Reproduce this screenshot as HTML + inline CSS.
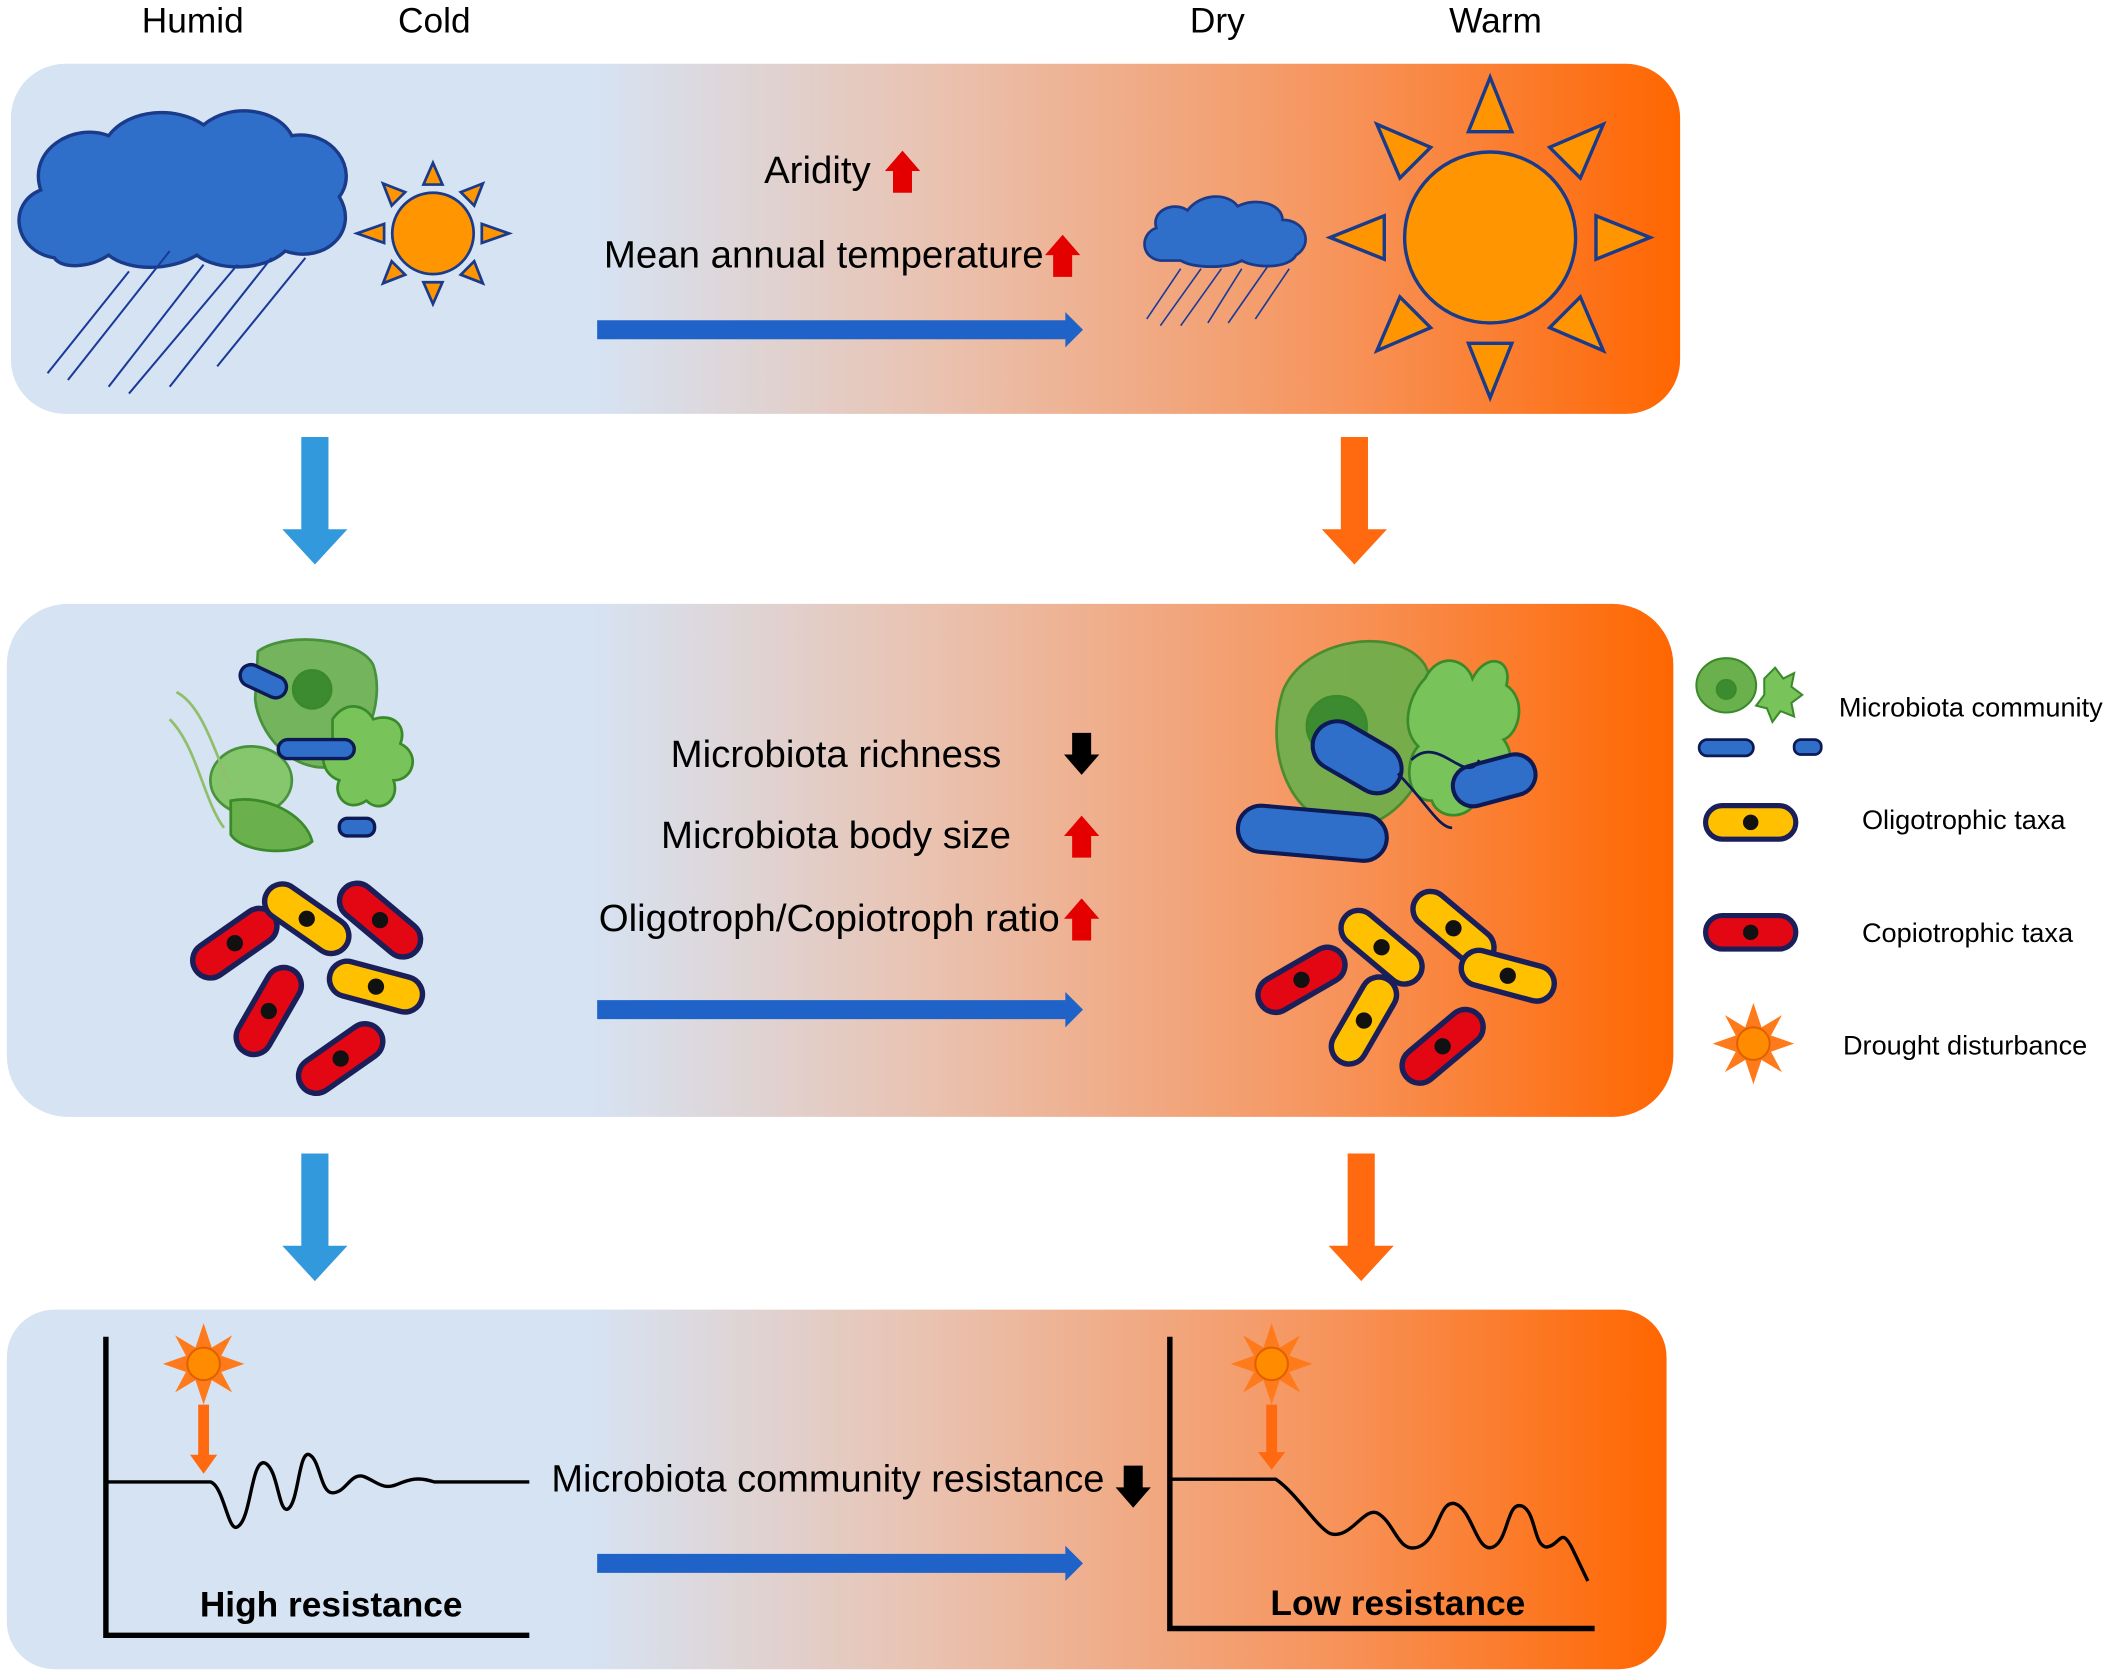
<!DOCTYPE html>
<html><head><meta charset="utf-8"><style>
html,body{margin:0;padding:0;background:#fff;}
svg{display:block;}
text{font-family:"Liberation Sans",Arial,sans-serif;}
</style></head><body>
<svg width="2128" height="1676" viewBox="0 0 1568 1235" xmlns="http://www.w3.org/2000/svg">
<defs>
<linearGradient id="g" x1="0" x2="1" y1="0" y2="0">
<stop offset="0" stop-color="#d6e3f3"/>
<stop offset="0.35" stop-color="#d6e3f3"/>
<stop offset="0.55" stop-color="#e9c3b2"/>
<stop offset="0.8" stop-color="#f7935a"/>
<stop offset="1" stop-color="#ff6600"/>
</linearGradient>
<g id="cap"><rect x="-35" y="-13" width="70" height="26" rx="13" stroke="#1a1f5a" stroke-width="4"/><circle r="6" fill="#111"/></g>
<g id="star"><polygon points="0,-30 6,-12 21,-21 13,-6 30,0 13,6 21,21 6,12 0,30 -6,12 -21,21 -13,6 -30,0 -13,-6 -21,-21 -6,-12" fill="#ff7a1a"/><circle r="12" fill="#ff8c00" stroke="#e06000" stroke-width="1.5"/></g>
<g id="up"><polygon points="-7,16 7,16 7,0 13,0 0,-15 -13,0 -7,0" fill="#e50000"/></g>
<g id="dn"><polygon points="-7,-16 7,-16 7,0 13,0 0,15 -13,0 -7,0" fill="#000"/></g>
</defs>

<rect x="8" y="47" width="1230" height="258" rx="40" fill="url(#g)"/>
<rect x="5" y="445" width="1228" height="378" rx="45" fill="url(#g)"/>
<rect x="5" y="965" width="1223" height="265" rx="35" fill="url(#g)"/>

<g font-size="26" fill="#000" text-anchor="middle">
<text x="142" y="24">Humid</text><text x="320" y="24">Cold</text>
<text x="897" y="24">Dry</text><text x="1102" y="24">Warm</text>
</g>

<g stroke="#1a3a8a" stroke-width="2.5" fill="#2f6fc9">
<path d="M40,190 C10,185 5,150 30,140 C20,110 55,90 80,100 C95,80 130,78 150,92 C170,75 205,80 215,100 C245,95 265,125 250,145 C265,170 240,195 210,185 C195,200 160,200 145,188 C125,200 95,200 80,188 C65,198 45,198 40,190 Z"/>
</g>
<g stroke="#1a3a9a" stroke-width="1.5">
<line x1="95" y1="200" x2="35" y2="275"/><line x1="125" y1="185" x2="50" y2="280"/>
<line x1="150" y1="195" x2="80" y2="285"/><line x1="175" y1="195" x2="95" y2="290"/>
<line x1="200" y1="190" x2="125" y2="285"/><line x1="225" y1="190" x2="160" y2="270"/>
</g>
<g fill="#ff9500" stroke="#1a3a8a" stroke-width="2">
<g transform="translate(319,172)">
<polygon points="-7,-36 7,-36 0,-52"/><polygon points="-7,36 7,36 0,52"/>
<polygon points="-36,-7 -36,7 -56,0"/><polygon points="36,-7 36,7 56,0"/>
<polygon points="-7,-36 7,-36 0,-52" transform="rotate(45)"/><polygon points="-7,-36 7,-36 0,-52" transform="rotate(135)"/>
<polygon points="-7,-36 7,-36 0,-52" transform="rotate(225)"/><polygon points="-7,-36 7,-36 0,-52" transform="rotate(315)"/>
<circle r="30"/>
</g></g>

<g font-size="28.3" fill="#000">
<text x="563" y="135">Aridity</text>
<text x="445" y="197">Mean annual temperature</text>
</g>
<use href="#up" x="665" y="126"/><use href="#up" x="783" y="188"/>
<polygon points="440,236 785,236 785,230 798,243 785,256 785,250 440,250" fill="#1f63c9"/>

<path d="M855,192 C840,190 840,172 852,168 C848,155 865,148 875,155 C885,142 905,142 912,152 C925,145 945,150 945,162 C962,162 968,180 955,188 C950,198 925,198 915,192 C905,198 880,198 870,192 Z" fill="#2f6fc9" stroke="#1a3a8a" stroke-width="2"/>
<g stroke="#1a3a9a" stroke-width="1.2">
<line x1="870" y1="198" x2="845" y2="235"/><line x1="885" y1="198" x2="855" y2="240"/>
<line x1="900" y1="198" x2="870" y2="240"/><line x1="915" y1="198" x2="890" y2="238"/>
<line x1="935" y1="195" x2="905" y2="238"/><line x1="950" y1="198" x2="925" y2="235"/>
</g>
<g fill="#ff9500" stroke="#1a3a8a" stroke-width="2.5" transform="translate(1098,175)">
<polygon points="-16,-78 16,-78 0,-118"/>
<polygon points="-16,-78 16,-78 0,-118" transform="rotate(45)"/>
<polygon points="-16,-78 16,-78 0,-118" transform="rotate(90)"/>
<polygon points="-16,-78 16,-78 0,-118" transform="rotate(135)"/>
<polygon points="-16,-78 16,-78 0,-118" transform="rotate(180)"/>
<polygon points="-16,-78 16,-78 0,-118" transform="rotate(225)"/>
<polygon points="-16,-78 16,-78 0,-118" transform="rotate(270)"/>
<polygon points="-16,-78 16,-78 0,-118" transform="rotate(315)"/>
<circle r="63"/>
</g>

<polygon points="222,322 242,322 242,390 256,390 232,416 208,390 222,390" fill="#3399dd"/>
<polygon points="988,322 1008,322 1008,390 1022,390 998,416 974,390 988,390" fill="#ff6a10"/>
<polygon points="222,850 242,850 242,918 256,918 232,944 208,918 222,918" fill="#3399dd"/>
<polygon points="993,850 1013,850 1013,918 1027,918 1003,944 979,918 993,918" fill="#ff6a10"/>

<g stroke="#3a8a2a" stroke-width="2">
<path d="M190,480 C210,465 265,470 275,490 C285,520 265,560 245,565 C215,570 190,540 188,515 Z" fill="#6ab04c" opacity="0.9"/>
<circle cx="230" cy="508" r="14" fill="#3d8b30"/>
<path d="M245,530 C255,515 270,520 275,530 C290,525 300,535 295,548 C310,555 305,575 290,575 C295,590 280,600 270,590 C255,600 245,585 250,575 C235,570 235,550 245,545 Z" fill="#78c45a"/>
<ellipse cx="185" cy="575" rx="30" ry="25" fill="#7ec460" opacity="0.9"/>
<path d="M170,590 C195,585 225,600 230,620 C220,630 180,630 170,615 Z" fill="#6ab04c"/>
<path d="M130,510 C150,520 160,560 170,580 M125,530 C145,550 150,590 165,610" fill="none" stroke="#8fbf6a"/>
</g>
<g stroke="#0d1a55" stroke-width="2.5" fill="#2f6fc9">
<rect x="176" y="494" width="36" height="16" rx="8" transform="rotate(25,194,502)"/>
<rect x="205" y="545" width="56" height="14" rx="7"/>
<rect x="250" y="603" width="26" height="13" rx="6"/>
</g>
<g stroke="#3a8a2a" stroke-width="2">
<path d="M945,510 C960,470 1030,460 1050,490 C1070,530 1050,600 1000,610 C955,612 930,560 945,510 Z" fill="#6ab04c" opacity="0.9"/>
<circle cx="985" cy="535" r="22" fill="#3d8b30"/>
<path d="M1050,500 C1060,480 1080,485 1085,500 C1095,480 1115,485 1110,505 C1125,515 1120,540 1108,545 C1120,560 1110,590 1090,585 C1085,605 1060,605 1055,590 C1035,590 1035,560 1045,550 C1030,535 1040,510 1050,500 Z" fill="#78c45a"/>
</g>
<g stroke="#0d1a55" stroke-width="3" fill="#2f6fc9">
<rect x="965" y="540" width="70" height="36" rx="18" transform="rotate(30,1000,558)"/>
<rect x="1070" y="560" width="62" height="30" rx="15" transform="rotate(-15,1101,575)"/>
<rect x="912" y="597" width="110" height="34" rx="17" transform="rotate(5,967,614)"/>
</g>
<path d="M1030,570 C1050,590 1060,610 1070,610 M1040,560 C1060,540 1080,580 1090,560" fill="none" stroke="#0d1a55" stroke-width="2"/>

<g font-size="28.3" fill="#000" text-anchor="middle">
<text x="616" y="565">Microbiota richness</text>
<text x="616" y="625">Microbiota body size</text>
<text x="611" y="686">Oligotroph/Copiotroph ratio</text>
</g>
<use href="#dn" x="797" y="556"/><use href="#up" x="797" y="616"/><use href="#up" x="797" y="677"/>
<polygon points="440,737 785,737 785,731 798,744 785,757 785,751 440,751" fill="#1f63c9"/>

<g>
<use href="#cap" fill="#e30613" transform="translate(173,695) rotate(-35)"/>
<use href="#cap" fill="#ffc000" transform="translate(226,677) rotate(35)"/>
<use href="#cap" fill="#e30613" transform="translate(280,678) rotate(40)"/>
<use href="#cap" fill="#e30613" transform="translate(198,745) rotate(-60)"/>
<use href="#cap" fill="#ffc000" transform="translate(277,727) rotate(15)"/>
<use href="#cap" fill="#e30613" transform="translate(251,780) rotate(-35)"/>
<use href="#cap" fill="#e30613" transform="translate(959,722) rotate(-30)"/>
<use href="#cap" fill="#ffc000" transform="translate(1018,698) rotate(40)"/>
<use href="#cap" fill="#ffc000" transform="translate(1071,684) rotate(40)"/>
<use href="#cap" fill="#ffc000" transform="translate(1111,719) rotate(15)"/>
<use href="#cap" fill="#ffc000" transform="translate(1005,752) rotate(-60)"/>
<use href="#cap" fill="#e30613" transform="translate(1063,771) rotate(-40)"/>
</g>

<g stroke="#3a8a2a" stroke-width="1.5">
<ellipse cx="1272" cy="505" rx="22" ry="20" fill="#6ab04c"/>
<circle cx="1272" cy="508" r="7" fill="#3d8b30"/>
<path d="M1300,500 l8,-8 6,8 8,-4 -2,10 8,6 -8,6 2,10 -10,-4 -6,8 -4,-10 -8,-2 6,-8 Z" fill="#78c45a"/>
</g>
<g stroke="#0d1a55" stroke-width="2" fill="#2f6fc9">
<rect x="1252" y="545" width="40" height="12" rx="6"/>
<rect x="1322" y="545" width="20" height="11" rx="5"/>
</g>
<use href="#cap" fill="#ffc000" transform="translate(1290,606) scale(0.95)"/>
<use href="#cap" fill="#e30613" transform="translate(1290,687) scale(0.95)"/>
<use href="#star" transform="translate(1292,769)"/>
<g font-size="20" fill="#000">
<text x="1355" y="528">Microbiota community</text>
<text x="1372" y="611">Oligotrophic taxa</text>
<text x="1372" y="694">Copiotrophic taxa</text>
<text x="1358" y="777">Drought disturbance</text>
</g>

<g stroke="#000" fill="none">
<polyline points="78,985 78,1205 390,1205" stroke-width="4"/>
<path d="M78,1092 L155,1092 C165,1095 168,1130 175,1125 C185,1120 185,1075 195,1078 C205,1082 205,1115 212,1112 C220,1108 220,1068 228,1072 C236,1076 236,1100 245,1100 C255,1100 258,1085 268,1088 C278,1092 282,1098 292,1094 C302,1090 308,1088 320,1092 L390,1092" stroke-width="2.5"/>
<polyline points="862,985 862,1200 1175,1200" stroke-width="4"/>
<path d="M862,1090 L940,1090 C955,1100 970,1125 980,1130 C995,1135 1005,1110 1015,1115 C1028,1122 1030,1145 1045,1140 C1060,1135 1060,1105 1072,1108 C1085,1112 1088,1145 1100,1140 C1112,1135 1110,1105 1122,1110 C1132,1115 1130,1140 1140,1140 C1150,1138 1150,1125 1158,1140 L1170,1165" stroke-width="2.5"/>
</g>
<use href="#star" transform="translate(150,1005)"/>
<use href="#star" transform="translate(937,1005)"/>
<polygon points="146,1035 154,1035 154,1072 160,1072 150,1086 140,1072 146,1072" fill="#ff6a10"/>
<polygon points="933,1035 941,1035 941,1070 947,1070 937,1083 927,1070 933,1070" fill="#ff6a10"/>
<g font-size="26" fill="#000" text-anchor="middle" font-weight="bold">
<text x="244" y="1191">High resistance</text>
<text x="1030" y="1190">Low resistance</text>
</g>
<text x="610" y="1099" font-size="28" fill="#000" text-anchor="middle">Microbiota community resistance</text>
<use href="#dn" x="835" y="1096"/>
<polygon points="440,1145 785,1145 785,1139 798,1152 785,1165 785,1159 440,1159" fill="#1f63c9"/>
</svg>
</body></html>
